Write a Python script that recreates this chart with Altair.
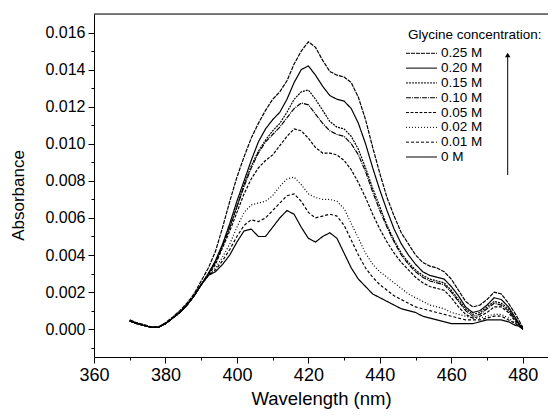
import altair as alt
import pandas as pd

wavelength = [370, 372, 374, 376, 378, 380, 382, 384, 386, 388, 390, 392, 394, 396, 398,
              400, 402, 404, 406, 408, 410, 412, 414, 416, 418, 420, 422, 424, 426, 428,
              430, 432, 434, 436, 438, 440, 442, 444, 446, 448, 450, 452, 454, 456, 458,
              460, 462, 464, 466, 468, 470, 472, 474, 476, 478, 480]

start = [.00045, .0003, .0002, .0001, .0001, .0003, .0006, .0009, .0013, .0018]

a_025 = [.00050, .00035, .00025, .00012, .00012, .00035, .00065, .0010, .0014, .0019,
         .0026, .0033, .0042, .0055, .0069, .0082, .0093, .0103, .0111, .0118, .0124, .0128,
         .0134, .0143, .0150, .0155, .0152, .0145, .0139, .0137, .0136, .0133, .0125, .0113,
         .0098, .0084, .0071, .0061, .0052, .0046, .0040, .0036, .0034, .0033, .0031, .0027,
         .0021, .0015, .0012, .0013, .0016, .0020, .0019, .0014, .0008, .0001]
a_020 = start + [.0024, .0030, .0037, .0046, .0057, .0069, .0080, .0091, .0101, .0108, .0113,
                 .0117, .0124, .0133, .0140, .0142, .0137, .0131, .0126, .0124, .0123, .0119,
                 .0111, .0100, .0087, .0075, .0064, .0054, .0046, .0040, .0035, .0031, .0029,
                 .0028, .0027, .0023, .0018, .0012, .0009, .0010, .0013, .0017, .0016, .0012,
                 .0006, .0000]
a_015 = start + [.0024, .0030, .0036, .0045, .0055, .0066, .0078, .0088, .0096, .0102, .0107,
                 .0111, .0117, .0124, .0128, .0129, .0124, .0118, .0112, .0109, .0108, .0104,
                 .0097, .0087, .0076, .0066, .0056, .0048, .0041, .0036, .0032, .0029, .0027,
                 .0026, .0025, .0021, .0016, .0011, .0008, .0009, .0012, .0015, .0014, .0011,
                 .0005, .0000]
a_010 = start + [.0024, .0030, .0036, .0045, .0055, .0066, .0077, .0087, .0095, .0101, .0105,
                 .0109, .0114, .0119, .0122, .0121, .0116, .0111, .0107, .0105, .0104, .0100,
                 .0094, .0085, .0074, .0064, .0055, .0047, .0040, .0035, .0031, .0028, .0026,
                 .0025, .0024, .0020, .0015, .0010, .0007, .0008, .0011, .0014, .0013, .0010,
                 .0005, .0000]
a_005 = start + [.0024, .0029, .0035, .0044, .0053, .0063, .0073, .0081, .0087, .0091, .0094,
                 .0099, .0104, .0108, .0107, .0103, .0098, .0095, .0095, .0094, .0091, .0086,
                 .0079, .0071, .0062, .0054, .0047, .0041, .0036, .0032, .0028, .0025, .0023,
                 .0022, .0021, .0017, .0012, .0008, .0006, .0007, .0009, .0012, .0012, .0009,
                 .0004, .0000]
a_002 = start + [.0024, .0029, .0033, .0039, .0046, .0055, .0063, .0067, .0068, .0069, .0072,
                 .0077, .0081, .0082, .0078, .0073, .0071, .0070, .0070, .0069, .0065, .0057,
                 .0049, .0041, .0035, .0031, .0028, .0025, .0022, .0019, .0017, .0015, .0013,
                 .0012, .0011, .0009, .0008, .0007, .0006, .0006, .0007, .0008, .0008, .0006,
                 .0003, .0000]
a_001 = start + [.0024, .0029, .0032, .0037, .0043, .0050, .0056, .0059, .0058, .0060, .0064,
                 .0068, .0072, .0073, .0069, .0063, .0060, .0061, .0062, .0061, .0056, .0048,
                 .0040, .0033, .0028, .0024, .0021, .0018, .0016, .0014, .0012, .0011, .0010,
                 .0009, .0008, .0007, .0006, .0005, .0005, .0005, .0006, .0007, .0007, .0005,
                 .0003, .0000]
a_000 = start + [.0024, .0029, .0031, .0035, .0040, .0047, .0053, .0054, .0050, .0050, .0055,
                 .0060, .0064, .0062, .0055, .0049, .0047, .0050, .0052, .0049, .0041, .0033,
                 .0027, .0023, .0019, .0017, .0015, .0013, .0011, .0010, .0009, .0007, .0006,
                 .0005, .0004, .0003, .0003, .0003, .0003, .0004, .0005, .0005, .0005, .0004,
                 .0002, .0001]

series_names = ["0.25 M", "0.20 M", "0.15 M", "0.10 M", "0.05 M", "0.02 M", "0.01 M", "0 M"]
series_values = [a_025, a_020, a_015, a_010, a_005, a_002, a_001, a_000]
dashes = [[4, 1], [1, 0], [2, 1], [5, 1, 1, 1], [3, 1.5], [1, 2], [3, 2], [1, 0]]

x_ticks = list(range(360, 490, 10))
y_ticks = [round(-0.001 + 0.001 * i, 3) for i in range(18)]

rows = []
for name, vals in zip(series_names, series_values):
    for w, v in zip(wavelength, vals):
        rows.append({"wl": w, "A": v, "series": name})
df = pd.DataFrame(rows)

legend_df = pd.DataFrame({"series": series_names, "row": list(range(len(series_names)))})
one = pd.DataFrame({"k": [0]})

FONT = "Liberation Sans"
W, H = 454, 343

dash_scale = alt.Scale(domain=series_names, range=dashes)

lines = alt.Chart(df).mark_line(color="black", strokeWidth=1.2).encode(
    x=alt.X("wl:Q", scale=alt.Scale(domain=[360, 487.06], nice=False, zero=False),
            axis=alt.Axis(values=x_ticks, grid=False, title="Wavelength (nm)",
                          labelExpr="datum.value % 20 == 0 ? datum.label : ''",
                          tickSize={"condition": {"test": "datum.value % 20 == 0", "value": 6}, "value": 3},
                          labelFontSize=18, labelPadding=3, labelFont=FONT, labelColor="black",
                          titleFont=FONT, titleFontSize=18.5, titleFontWeight="normal",
                          titleColor="black", titleY=47, titleBaseline="alphabetic",
                          domainColor="black", tickColor="black", labelFlush=False)),
    y=alt.Y("A:Q", scale=alt.Scale(domain=[-0.0015, 0.017], nice=False, zero=False),
            axis=alt.Axis(values=y_ticks, grid=False, title="Absorbance",
                          labelExpr="abs(round(datum.value*1000)) % 2 == 0 ? format(datum.value, '.3f') : ''",
                          tickSize={"condition": {"test": "abs(round(datum.value*1000)) % 2 == 0", "value": 6}, "value": 3},
                          labelFontSize=16, labelPadding=3, labelFont=FONT, labelColor="black",
                          titleFont=FONT, titleFontSize=17, titleFontWeight="normal",
                          titleColor="black", titleX=-76, titleY=181, titleBaseline="middle",
                          domainColor="black", tickColor="black", labelFlush=False)),
    strokeDash=alt.StrokeDash("series:N", scale=dash_scale, legend=None),
    detail="series:N",
)

top_line = alt.Chart(one).mark_rule(color="black", strokeWidth=1).encode(
    x=alt.value(0), x2=alt.value(W), y=alt.value(0))

leg_y = alt.Y("row:Q", scale=alt.Scale(domain=[0, 7], range=[39.3, 143]), axis=None)

leg_lines = alt.Chart(legend_df).mark_rule(color="black", strokeWidth=1).encode(
    x=alt.value(312), x2=alt.value(343), y=leg_y,
    strokeDash=alt.StrokeDash("series:N", scale=dash_scale, legend=None))

leg_text = alt.Chart(legend_df).mark_text(align="left", baseline="middle", font=FONT,
                                          fontSize=13.5, color="black").encode(
    x=alt.value(347), y=leg_y, text="series:N")

leg_title = alt.Chart(one).mark_text(align="left", baseline="middle", font=FONT,
                                     fontSize=13.5, color="black").encode(
    x=alt.value(314), y=alt.value(21), text=alt.value("Glycine concentration:"))

arrow_shaft = alt.Chart(one).mark_rule(color="black", strokeWidth=1).encode(
    x=alt.value(413.7), y=alt.value(42), y2=alt.value(161))
arrow_head = alt.Chart(one).mark_point(shape="triangle-up", filled=True, color="black",
                                       size=30, opacity=1).encode(
    x=alt.value(413.7), y=alt.value(41))

chart = alt.layer(lines, top_line, leg_lines, leg_text, leg_title, arrow_shaft, arrow_head).resolve_scale(
    y="independent"
).properties(
    width=W, height=H, autosize="none",
    padding={"left": 86, "top": 6, "right": 0, "bottom": 52},
).configure_view(stroke=None).configure(background="white")

chart.save("out.html", embed_options={"renderer": "svg", "actions": False})
